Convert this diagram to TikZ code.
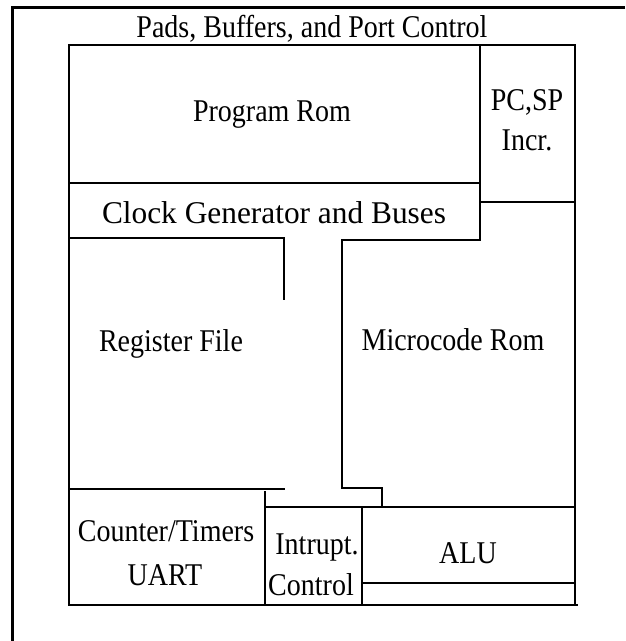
\documentclass[tikz,border=0pt]{standalone}
\usepackage{fontspec}
\setmainfont{Liberation Serif}
\newcommand\tallt[2][1]{\scalebox{#1}[1.13]{#2}}
\begin{document}
\begin{tikzpicture}[x=1pt,y=-1pt,
  wall/.style={line width=2.2pt,line cap=rect},
  frame/.style={line width=3pt},
  lbl/.style={inner sep=0pt,font=\fontsize{28}{30}\selectfont}]
\useasboundingbox (0,0) rectangle (625,641);
% outer frame (clipped at picture edge)
\draw[frame] (625,7) -- (12,7) -- (12,641);
% inner floorplan
\draw[wall] (69,45) -- (575,45) -- (575,605);
\draw[wall] (69,45) -- (69,605) -- (577,605);
\draw[wall] (69,183) -- (480,183);
\draw[wall] (480,45) -- (480,240) -- (342,240) -- (342,488) -- (382,488) -- (382,507);
\draw[wall] (480,202) -- (575,202);
\draw[wall,line width=2.8pt] (69,238) -- (284,238) -- (284,299);
\draw[wall] (69,489) -- (284,489);
\draw[wall] (265,492) -- (265,605);
\draw[wall] (265,507) -- (575,507);
\draw[wall] (362,507) -- (362,605);
\draw[wall] (362,583) -- (575,583);
% labels
\node[lbl] (pads) at (312,29) {\tallt{Pads, Buffers, and Port Control}};
\node[lbl] (prom) at (272,115) {\tallt{Program Rom}};
\node[lbl] (pc) at (527,102) {\tallt{PC,SP}};
\node[lbl] (incr) at (527,140) {\tallt{Incr.}};
\node[lbl] (clk) at (274,213) {\tallt[1.12]{Clock Generator and Buses}};
\node[lbl] (reg) at (171,344) {\tallt{Register File}};
\node[lbl] (mrom) at (453,340) {\tallt{Microcode Rom}};
\node[lbl] (cnt) at (166,531) {\tallt{Counter/Timers}};
\node[lbl] (uart) at (165,575) {\tallt{UART}};
\node[lbl] (intr) at (317,548) {\tallt{Intrupt.}};
\node[lbl] (ctl) at (311,585) {\tallt{Control}};
\node[lbl] (alu) at (468,553) {\tallt{ALU}};
\end{tikzpicture}
\end{document}
